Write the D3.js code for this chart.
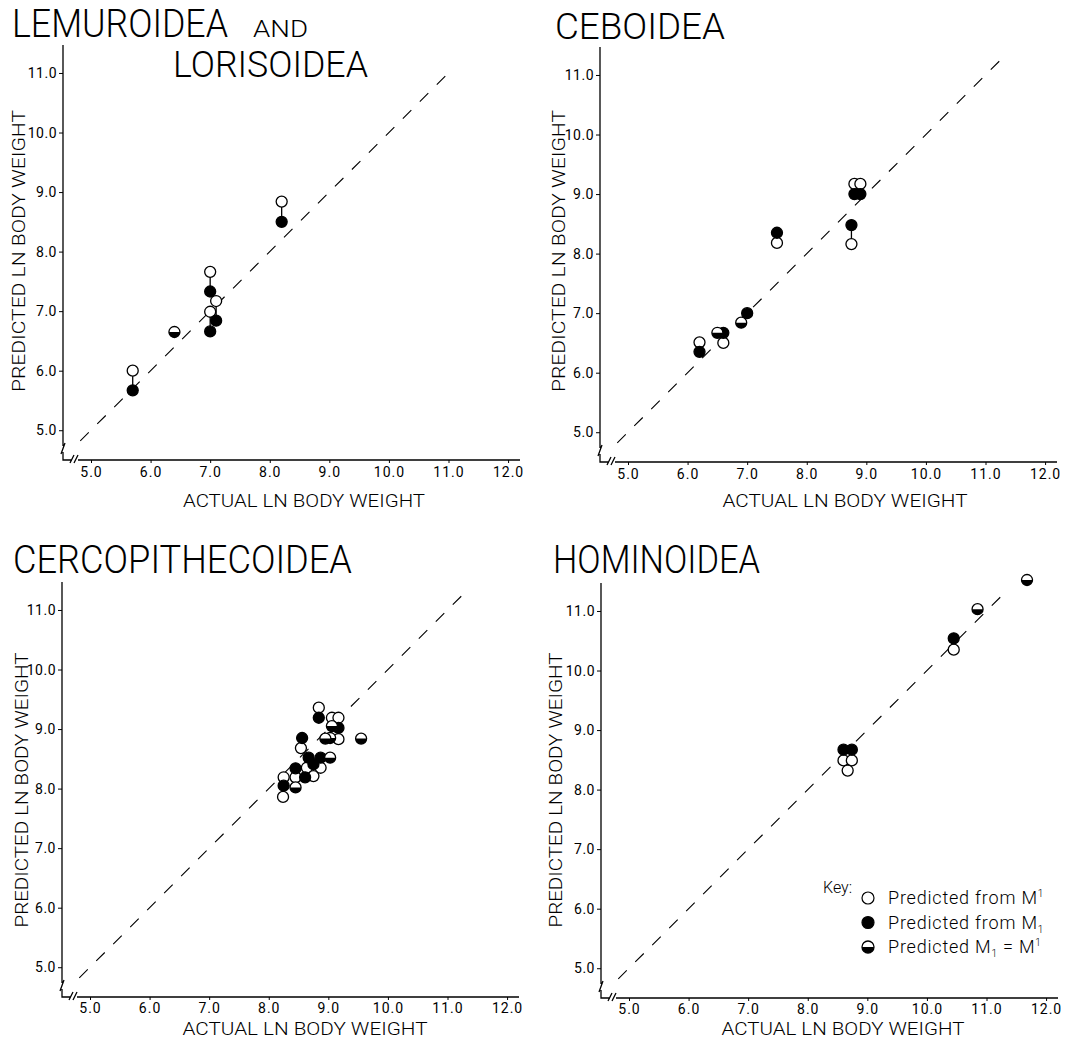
<!DOCTYPE html>
<html>
<head>
<meta charset="utf-8">
<script src="https://cdn.jsdelivr.net/npm/d3@7"></script>
<style>
body { margin: 0; background: #fff; }
text { font-family: Roboto, "Liberation Sans", sans-serif; fill: #000; }
</style>
</head>
<body>
<svg id="chart" width="1072" height="1041"></svg>
<script>
// tick values shared by all four panels
const xTicks = [5, 6, 7, 8, 9, 10, 11, 12];
const yTicks = [5, 6, 7, 8, 9, 10, 11];

// [actual, predicted from upper M, predicted from lower M]
const lemurPairs = [[5.7, 6.0, 5.67], [7.0, 7.66, 7.33], [7.0, 6.99, 6.66], [7.1, 7.17, 6.84], [8.2, 8.84, 8.5]];
const lemurOpen = [];
const lemurFilled = [];
const lemurHalf = [[6.4, 6.65]];

const ceboidPairs = [[6.2, 6.51, 6.35], [6.6, 6.5, 6.67], [7.5, 8.18, 8.35], [8.75, 8.16, 8.48], [8.8, 9.17, 9.0], [8.9, 9.17, 9.0]];
const ceboidOpen = [];
const ceboidFilled = [[7.0, 7.0]];
const ceboidHalf = [[6.5, 6.67], [6.9, 6.84]];

const cercPairs = [];
const cercOpen = [[8.84, 9.36], [9.06, 9.19], [9.17, 9.19], [9.17, 8.83], [8.54, 8.68], [8.64, 8.35], [8.87, 8.35],
    [8.25, 8.19], [8.45, 8.19], [8.75, 8.21], [8.24, 7.86]];
const cercFilled = [[8.84, 9.19], [9.17, 9.02], [8.56, 8.85], [8.67, 8.52], [8.87, 8.52], [8.75, 8.41], [8.45, 8.34],
    [8.61, 8.19], [8.25, 8.05]];
const cercHalf = [[9.06, 9.05], [9.03, 8.85], [8.95, 8.84], [9.03, 8.52], [8.45, 8.02], [9.55, 8.84]];

const hominoidPairs = [[8.6, 8.49, 8.67], [8.74, 8.49, 8.67], [10.45, 10.35, 10.54]];
const hominoidOpen = [[8.67, 8.32]];
const hominoidFilled = [];
const hominoidHalf = [[10.85, 11.03], [11.68, 11.52]];

// where the dashed y = x line stops in each panel
const diagStart = 4.82;
const diagEnds = [11.05, 11.3, 11.3, 11.35];

const keyLabels = ["Predicted from M", "Predicted from M", "Predicted M"];

const W = 457, H = 415, R = 5.5;

const x = d3.scaleLinear().domain([4.53, 12.2]).range([0, W]);
const y = d3.scaleLinear().domain([4.5, 11.47]).range([H, 0]);

const svg = d3.select("#chart");

const panels = [
    { ox: 63, oy: 45, pairs: lemurPairs, open: lemurOpen, filled: lemurFilled, half: lemurHalf,
      xTitle: [304, 507, 242], yTitle: [25, 251, 282] },
    { ox: 600, oy: 47, pairs: ceboidPairs, open: ceboidOpen, filled: ceboidFilled, half: ceboidHalf,
      xTitle: [845, 507, 245], yTitle: [565, 251, 282] },
    { ox: 62, oy: 582, pairs: cercPairs, open: cercOpen, filled: cercFilled, half: cercHalf,
      xTitle: [305, 1035, 245], yTitle: [28, 790, 275] },
    { ox: 601, oy: 583, pairs: hominoidPairs, open: hominoidOpen, filled: hominoidFilled, half: hominoidHalf,
      xTitle: [843, 1035, 243], yTitle: [562, 790, 275] }
];

// titles
const titles = [
    ["LEMUROIDEA", 12, 37, 216, 39],
    ["AND", 253, 37, 55, 23],
    ["LORISOIDEA", 173, 77, 195, 37],
    ["CEBOIDEA", 555, 39, 170, 37],
    ["CERCOPITHECOIDEA", 13, 573, 339, 38],
    ["HOMINOIDEA", 553, 573, 207, 38]
];
titles.forEach(t => {
    svg.append("text")
        .attr("x", t[1]).attr("y", t[2])
        .attr("textLength", t[3]).attr("lengthAdjust", "spacingAndGlyphs")
        .style("font-size", t[4] + "px").style("font-weight", 300)
        .text(t[0]);
});

const drawHalf = function (g, px, py, r) {
    g.append("circle").attr("cx", px).attr("cy", py).attr("r", r)
        .attr("fill", "#fff").attr("stroke", "#000").attr("stroke-width", 1.3);
    g.append("path").attr("transform", `translate(${px},${py})`)
        .attr("d", d3.arc().innerRadius(0).outerRadius(r).startAngle(Math.PI / 2).endAngle(3 * Math.PI / 2))
        .attr("fill", "#000");
};

panels.forEach((p, i) => {
    const g = svg.append("g").attr("transform", `translate(${p.ox},${p.oy})`);

    // axis lines with the little breaks at the origin
    g.append("path")
        .attr("d", `M0,0V${H - 14} M-2,${H - 6}L2,${H - 17} M0,${H - 8}V${H}H9 M7,${H + 3}L11,${H - 5} M11,${H + 3}L15,${H - 5} M15,${H}H${W}`)
        .attr("fill", "none").attr("stroke", "#000").attr("stroke-width", 1.3);

    const yAxis = g.append("g")
        .call(d3.axisLeft(y).tickValues(yTicks).tickSize(4).tickPadding(2).tickFormat(d3.format(".1f")));
    yAxis.select(".domain").remove();
    yAxis.selectAll("line").attr("stroke-width", 1);
    yAxis.selectAll("text").style("font-size", "14px").style("letter-spacing", "0.5px")
        .attr("font-family", null);

    const xAxis = g.append("g").attr("transform", `translate(0,${H})`)
        .call(d3.axisBottom(x).tickValues(xTicks).tickSize(3).tickPadding(i < 2 ? 4 : 3).tickFormat(d3.format(".1f")));
    xAxis.select(".domain").remove();
    xAxis.selectAll("line").attr("stroke-width", 1);
    xAxis.selectAll("text").style("font-size", "14px").style("letter-spacing", "1px")
        .attr("font-family", null);

    // y = x reference line
    g.append("line")
        .attr("x1", x(diagStart)).attr("y1", y(diagStart))
        .attr("x2", x(diagEnds[i])).attr("y2", y(diagEnds[i]))
        .attr("stroke", "#000").attr("stroke-width", 1.1).attr("stroke-dasharray", "12,12");

    // vertical connectors between the two predictions
    g.selectAll(".conn").data(p.pairs).enter().append("line")
        .attr("x1", d => x(d[0])).attr("x2", d => x(d[0]))
        .attr("y1", d => y(d[1])).attr("y2", d => y(d[2]))
        .attr("stroke", "#000").attr("stroke-width", 1.3);

    const opens = p.pairs.map(d => [d[0], d[1]]).concat(p.open);
    const filled = p.pairs.map(d => [d[0], d[2]]).concat(p.filled);

    g.selectAll(".open").data(opens).enter().append("circle")
        .attr("cx", d => x(d[0])).attr("cy", d => y(d[1])).attr("r", R)
        .attr("fill", "#fff").attr("stroke", "#000").attr("stroke-width", 1.3);

    g.selectAll(".filled").data(filled).enter().append("circle")
        .attr("cx", d => x(d[0])).attr("cy", d => y(d[1])).attr("r", R)
        .attr("fill", "#000").attr("stroke", "#000").attr("stroke-width", 1.3);

    p.half.forEach(d => drawHalf(g, x(d[0]), y(d[1]), R));

    // axis titles
    svg.append("text")
        .attr("x", p.xTitle[0]).attr("y", p.xTitle[1])
        .attr("text-anchor", "middle")
        .attr("textLength", p.xTitle[2]).attr("lengthAdjust", "spacingAndGlyphs")
        .style("font-size", "18px").style("font-weight", 300)
        .text("ACTUAL LN BODY WEIGHT");

    svg.append("text")
        .attr("transform", `translate(${p.yTitle[0]},${p.yTitle[1]}) rotate(-90)`)
        .attr("text-anchor", "middle")
        .attr("textLength", p.yTitle[2]).attr("lengthAdjust", "spacingAndGlyphs")
        .style("font-size", "19px").style("font-weight", 300)
        .text("PREDICTED LN BODY WEIGHT");
});

// key in the Hominoidea panel
const key = svg.append("g");
key.append("text").attr("x", 823).attr("y", 893).style("font-size", "16px").style("font-weight", 300).text("Key:");

const rowY = [898, 922.5, 947];
key.append("circle").attr("cx", 868).attr("cy", rowY[0]).attr("r", 6)
    .attr("fill", "#fff").attr("stroke", "#000").attr("stroke-width", 1.2);
key.append("circle").attr("cx", 868).attr("cy", rowY[1]).attr("r", 6)
    .attr("fill", "#000").attr("stroke", "#000").attr("stroke-width", 1.2);
drawHalf(key, 868, rowY[2], 6);

const keyText = rowY.map((ry, i) => key.append("text")
    .attr("x", 888).attr("y", ry + 6)
    .style("font-size", "18px").style("letter-spacing", "0.8px").style("font-weight", 300)
    .text(keyLabels[i]));

keyText[0].append("tspan").attr("dy", -7).style("font-size", "10px").text("1");
keyText[1].append("tspan").attr("dy", 4).style("font-size", "10px").text("1");
keyText[2].append("tspan").attr("dy", 4).style("font-size", "10px").text("1");
keyText[2].append("tspan").attr("dy", -4).text(" = M");
keyText[2].append("tspan").attr("dy", -7).style("font-size", "10px").text("1");
</script>
</body>
</html>
